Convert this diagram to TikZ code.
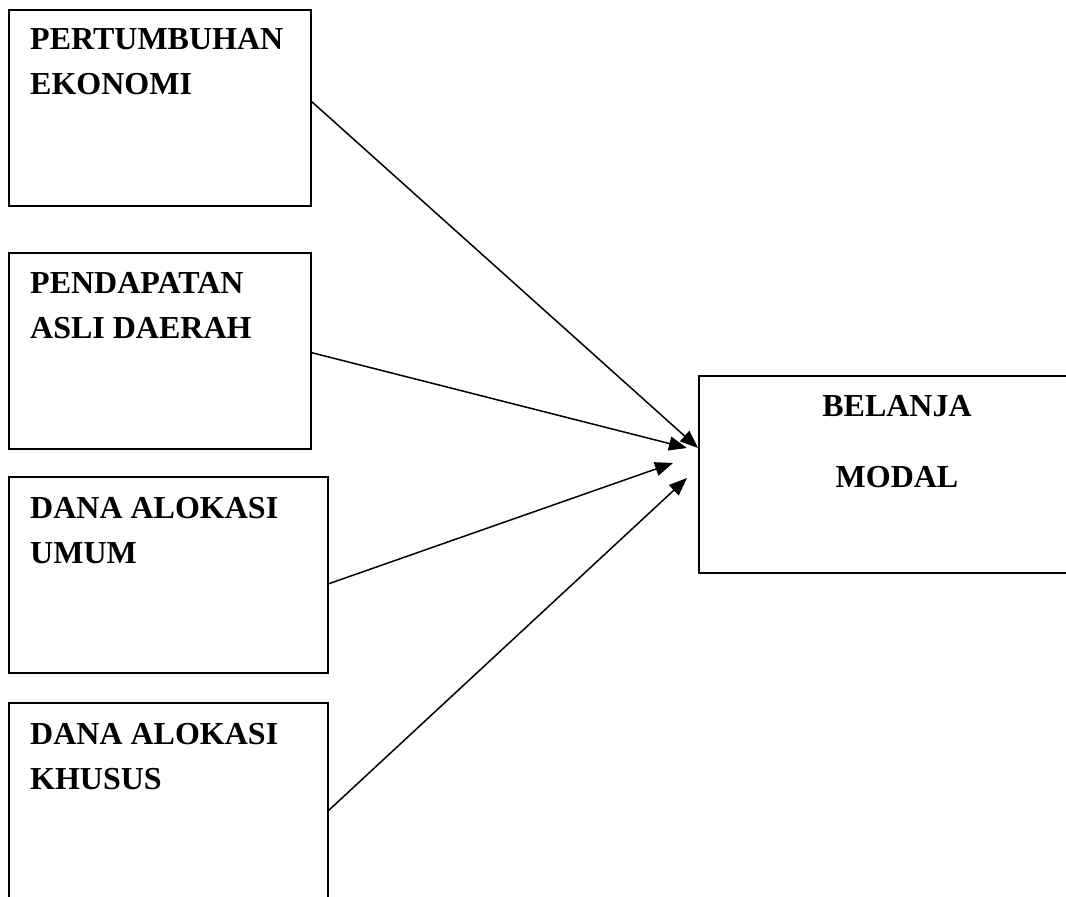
\documentclass[tikz,border=0pt]{standalone}
\usepackage{fontspec}
\setmainfont{Liberation Serif}
\usetikzlibrary{arrows.meta,positioning}
\tikzset{
    box/.style={draw,line width=1.8pt,inner sep=0pt,outer sep=0pt,minimum height=196pt},
    boxtext/.style={inner sep=0pt,anchor=north west,align=left,font=\fontsize{32}{45}\selectfont\bfseries},
    arr/.style={-{Triangle[length=18pt,width=14pt]},line width=1.5pt},
}

\begin{document}
\begin{tikzpicture}[x=1pt,y=-1pt]
        \useasboundingbox (0,0) rectangle (1066,897);
        \clip (0,0) rectangle (1066,897);

        % variabel bebas
        \node[box, minimum width=302pt] (b1) at (160,108) {};
        \node[box, minimum width=302pt, below=47pt of b1.south west, anchor=north west] (b2) {};
        \node[box, minimum width=319pt, below=28pt of b2.south west, anchor=north west] (b3) {};
        \node[box, minimum width=319pt, below=30pt of b3.south west, anchor=north west] (b4) {};

        \node[boxtext] (t1) at (30,28) {PERTUMBUHAN\\EKONOMI};
        \node[boxtext] (t2) at (30,272) {PENDAPATAN\\ASLI DAERAH};
        \node[boxtext] (t3) at (30,497) {DANA ALOKASI\\UMUM};
        \node[boxtext] (t4) at (30,723) {DANA ALOKASI\\KHUSUS};

        % variabel terikat
        \node[box, minimum width=372pt, minimum height=197pt] (bm) at (885,474.5) {};
        \node[boxtext, anchor=north, align=center,
              font=\fontsize{32}{71}\selectfont\bfseries] (tm) at (897,395) {BELANJA\\MODAL};

        \coordinate (e1) at (698,448);
        \coordinate (e2) at (687,448);
        \coordinate (e3) at (673,463);
        \coordinate (e4) at (687,478);

        \draw[arr] ([yshift=7pt]b1.east) -- (e1);
        \draw[arr] ([yshift=-1.5pt]b2.east) -- (e2);
        \draw[arr] ([yshift=-9pt]b3.east) -- (e3);
        \draw[arr] ([yshift=-10pt]b4.east) -- (e4);
\end{tikzpicture}
\end{document}
